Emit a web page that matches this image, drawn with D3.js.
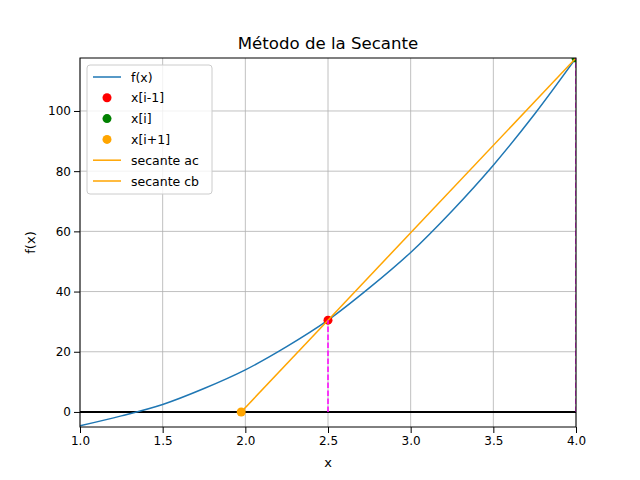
<!DOCTYPE html><html><head><script src="https://cdn.jsdelivr.net/npm/d3@7"></script>
<style>body{margin:0;background:#fff}text{font-family:"DejaVu Sans",sans-serif}</style></head><body><svg id="c" width="640" height="480"></svg>
<script>
const xs=[1,1.25,1.5,1.75,2,2.25,2.5,2.75,3,3.25,3.5,3.75,4];
const fx=[-4.6,-1.3,2.5,7.8,14,21.7,30.5,41.2,53,66.8,82,99,117.6];
const pA=[2.5,30.5], pB=[4,117.6], pC=[1.975,0];
const xTicks=[1,1.5,2,2.5,3,3.5,4], yTicks=[0,20,40,60,80,100];
const legendItems=[["f(x)","line","#1f77b4"],["x[i-1]","dot","red"],["x[i]","dot","green"],["x[i+1]","dot","orange"],["secante ac","line","orange"],["secante cb","line","orange"]];
const svg=d3.select("#c"),L=80,R=576,T=58,B=427;
svg.append("clipPath").attr("id","cp").append("rect").attr("x",L).attr("y",T).attr("width",R-L).attr("height",B-T);
const x=d3.scaleLinear().domain([1,4]).range([L,R]);
const y=d3.scaleLinear().domain([-5,117.6]).range([B,T]);
const g=svg.append("g");
g.selectAll(".gx").data(xTicks).join("line").attr("x1",d=>x(d)).attr("x2",d=>x(d)).attr("y1",T).attr("y2",B).attr("stroke","#b0b0b0").attr("stroke-width",0.8);
g.selectAll(".gy").data(yTicks).join("line").attr("y1",d=>y(d)).attr("y2",d=>y(d)).attr("x1",L).attr("x2",R).attr("stroke","#b0b0b0").attr("stroke-width",0.8);
const pg=svg.append("g").attr("clip-path","url(#cp)");
pg.append("line").attr("x1",L).attr("x2",R).attr("y1",y(0)).attr("y2",y(0)).attr("stroke","black").attr("stroke-width",2);
const ln=d3.line().x(d=>x(d[0])).y(d=>y(d[1])).curve(d3.curveCatmullRom);
pg.append("path").attr("d",ln(xs.map((v,i)=>[v,fx[i]]))).attr("fill","none").attr("stroke","#1f77b4").attr("stroke-width",1.5);
[[pA,"red"],[pB,"green"],[pC,"orange"]].forEach(([p,c])=>pg.append("circle").attr("cx",x(p[0])).attr("cy",y(p[1])).attr("r",4.5).attr("fill",c));
const l2=d3.line().x(d=>x(d[0])).y(d=>y(d[1]));
pg.append("path").attr("d",l2([pA,pB])).attr("stroke","orange").attr("stroke-width",1.5).attr("fill","none");
pg.append("path").attr("d",l2([pC,pA])).attr("stroke","orange").attr("stroke-width",1.5).attr("fill","none");
[pA,pB].forEach(p=>pg.append("line").attr("x1",x(p[0])).attr("x2",x(p[0])).attr("y1",y(0)).attr("y2",y(p[1])).attr("stroke","magenta").attr("stroke-width",1.5).attr("stroke-dasharray","5.5,2.5"));
svg.append("g").attr("transform",`translate(0,${B})`).call(d3.axisBottom(x).tickValues(xTicks).tickFormat(d3.format(".1f")).tickSizeOuter(0));
svg.append("g").attr("transform",`translate(${L},0)`).call(d3.axisLeft(y).tickValues(yTicks).tickSizeOuter(0));
svg.selectAll(".tick text").attr("font-size",12).attr("fill","black");
svg.selectAll(".domain").remove();
svg.append("rect").attr("x",L).attr("y",T).attr("width",R-L).attr("height",B-T).attr("fill","none").attr("stroke","black").attr("stroke-width",1);
svg.append("text").attr("x",(L+R)/2).attr("y",49).attr("text-anchor","middle").attr("font-size",16.6).text("Método de la Secante");
svg.append("text").attr("x",(L+R)/2).attr("y",467).attr("text-anchor","middle").attr("font-size",13).text("x");
svg.append("text").attr("transform",`translate(35,${(T+B)/2}) rotate(-90)`).attr("text-anchor","middle").attr("font-size",13).text("f(x)");
const lg=svg.append("g");
lg.append("rect").attr("x",87).attr("y",65).attr("width",125).attr("height",129).attr("rx",3).attr("fill","white").attr("fill-opacity",0.8).attr("stroke","#ccc");
legendItems.forEach((it,i)=>{const yy=77+i*20.8;
 if(it[1]=="line")lg.append("line").attr("x1",93).attr("x2",121).attr("y1",yy).attr("y2",yy).attr("stroke",it[2]).attr("stroke-width",1.5);
 else lg.append("circle").attr("cx",107).attr("cy",yy).attr("r",4.5).attr("fill",it[2]);
 lg.append("text").attr("x",131).attr("y",yy+4.5).attr("font-size",12.5).text(it[0]);});
</script></body></html>
